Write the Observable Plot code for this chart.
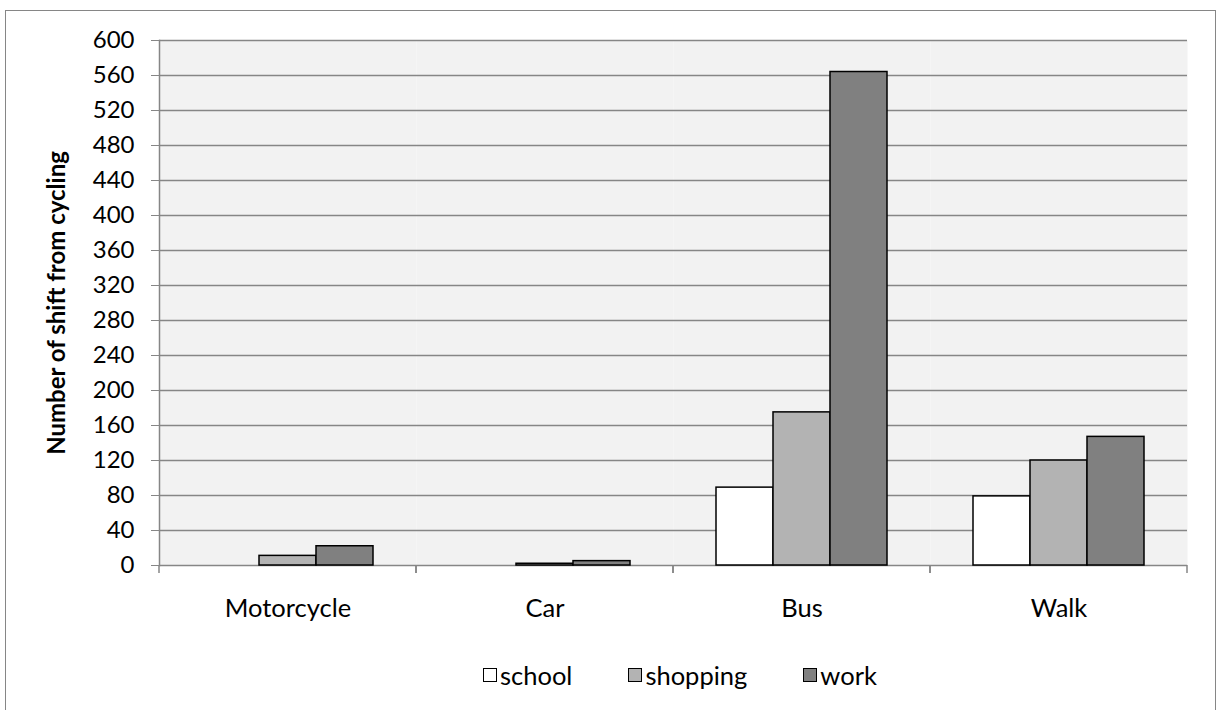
<!DOCTYPE html>
<html><head><meta charset="utf-8">
<script src="https://cdn.jsdelivr.net/npm/d3@7"></script>
<script src="https://cdn.jsdelivr.net/npm/@observablehq/plot@0.6"></script>
<style>
body{margin:0;background:#fff;font-family:Lato,"Open Sans",sans-serif;}
#wrap{position:relative;width:1216px;height:710px;overflow:hidden;background:#fff;}
#border{position:absolute;left:5px;top:10px;width:1211px;height:730px;border:1.5px solid #868686;box-sizing:border-box;pointer-events:none;}
#chart svg{display:block;}
g[aria-label="y-axis label"] text{font-weight:bold;}
#legend{display:flex;align-items:center;margin-left:483px;margin-top:11px;font-size:25.5px;color:#000;line-height:28px;}
#legend .item{display:flex;align-items:center;margin-right:56px;}
#legend .box{width:12px;height:12px;border:1.5px solid #000;margin-right:3px;}
</style></head>
<body>
<div id="wrap"><div id="chart"></div><div id="legend"></div><div id="border"></div></div>
<script>
const categories = ["Motorcycle", "Car", "Bus", "Walk"];
const series = ["school", "shopping", "work"];
const school = [0, 0, 89, 79];
const shopping = [11, 2, 175, 120];
const work = [22, 5, 564, 147];
const yTicks = [0, 40, 80, 120, 160, 200, 240, 280, 320, 360, 400, 440, 480, 520, 560, 600];
const colors = ["#ffffff", "#b3b3b3", "#808080"];
const yTitle = "Number of shift from cycling";

const valuesBySeries = [school, shopping, work];
const data = categories.flatMap((c, i) => series.map((s, j) => ({category: c, series: s, value: valuesBySeries[j][i]})));

// Rendered once per facet (with the facet's own dimensions): tick marks at the
// category boundaries, below the baseline.
function boundaryTicks(index, scales, values, dims) {
  const {width, height, marginLeft, marginRight, marginBottom} = dims;
  const yb = height - marginBottom;
  const g = d3.create("svg:g").attr("stroke", "#868686").attr("stroke-width", 1.5).attr("fill", "none");
  [marginLeft, width - marginRight].forEach(x => {
    g.append("line").attr("x1", x).attr("x2", x).attr("y1", yb).attr("y2", yb + 8);
  });
  return g.node();
}

const plot = Plot.plot({
  width: 1216,
  height: 650,
  marginLeft: 157,
  marginRight: 28,
  marginTop: 40,
  marginBottom: 85,
  style: {fontFamily: "Lato, 'Open Sans', sans-serif", fontSize: "24px", color: "black", background: "transparent"},
  fx: {domain: categories, padding: 0, label: null},
  x: {domain: series, paddingInner: 0, paddingOuter: 0.74, axis: null},
  y: {domain: [0, 600]},
  color: {domain: series, range: colors},
  marks: [
    Plot.frame({fill: "#f2f2f2", stroke: null}),
    Plot.gridY(yTicks, {stroke: "#868686", strokeOpacity: 1, strokeWidth: 1.5}),
    Plot.frame({anchor: "left", stroke: "#868686", strokeWidth: 1.5, facetAnchor: "left"}),
    Plot.axisY(yTicks, {tickSize: 8, tickPadding: 17, stroke: "#868686", fill: "black", label: yTitle, labelAnchor: "center", labelArrow: "none", labelOffset: 112}),
    Plot.axisFx({anchor: "bottom", tickSize: 0, tickPadding: 33, label: null, fontSize: "25.5px"}),
    boundaryTicks,
    Plot.barY(data.filter(d => d.value > 0), {fx: "category", x: "series", y: "value", fill: "series", stroke: "black", strokeWidth: 1.5})
  ]
});
document.getElementById("chart").appendChild(plot);

const legend = d3.select("#legend");
series.forEach((s, i) => {
  const item = legend.append("div").attr("class", "item");
  item.append("div").attr("class", "box").style("background", colors[i]);
  item.append("span").text(s);
});
</script>
</body></html>
